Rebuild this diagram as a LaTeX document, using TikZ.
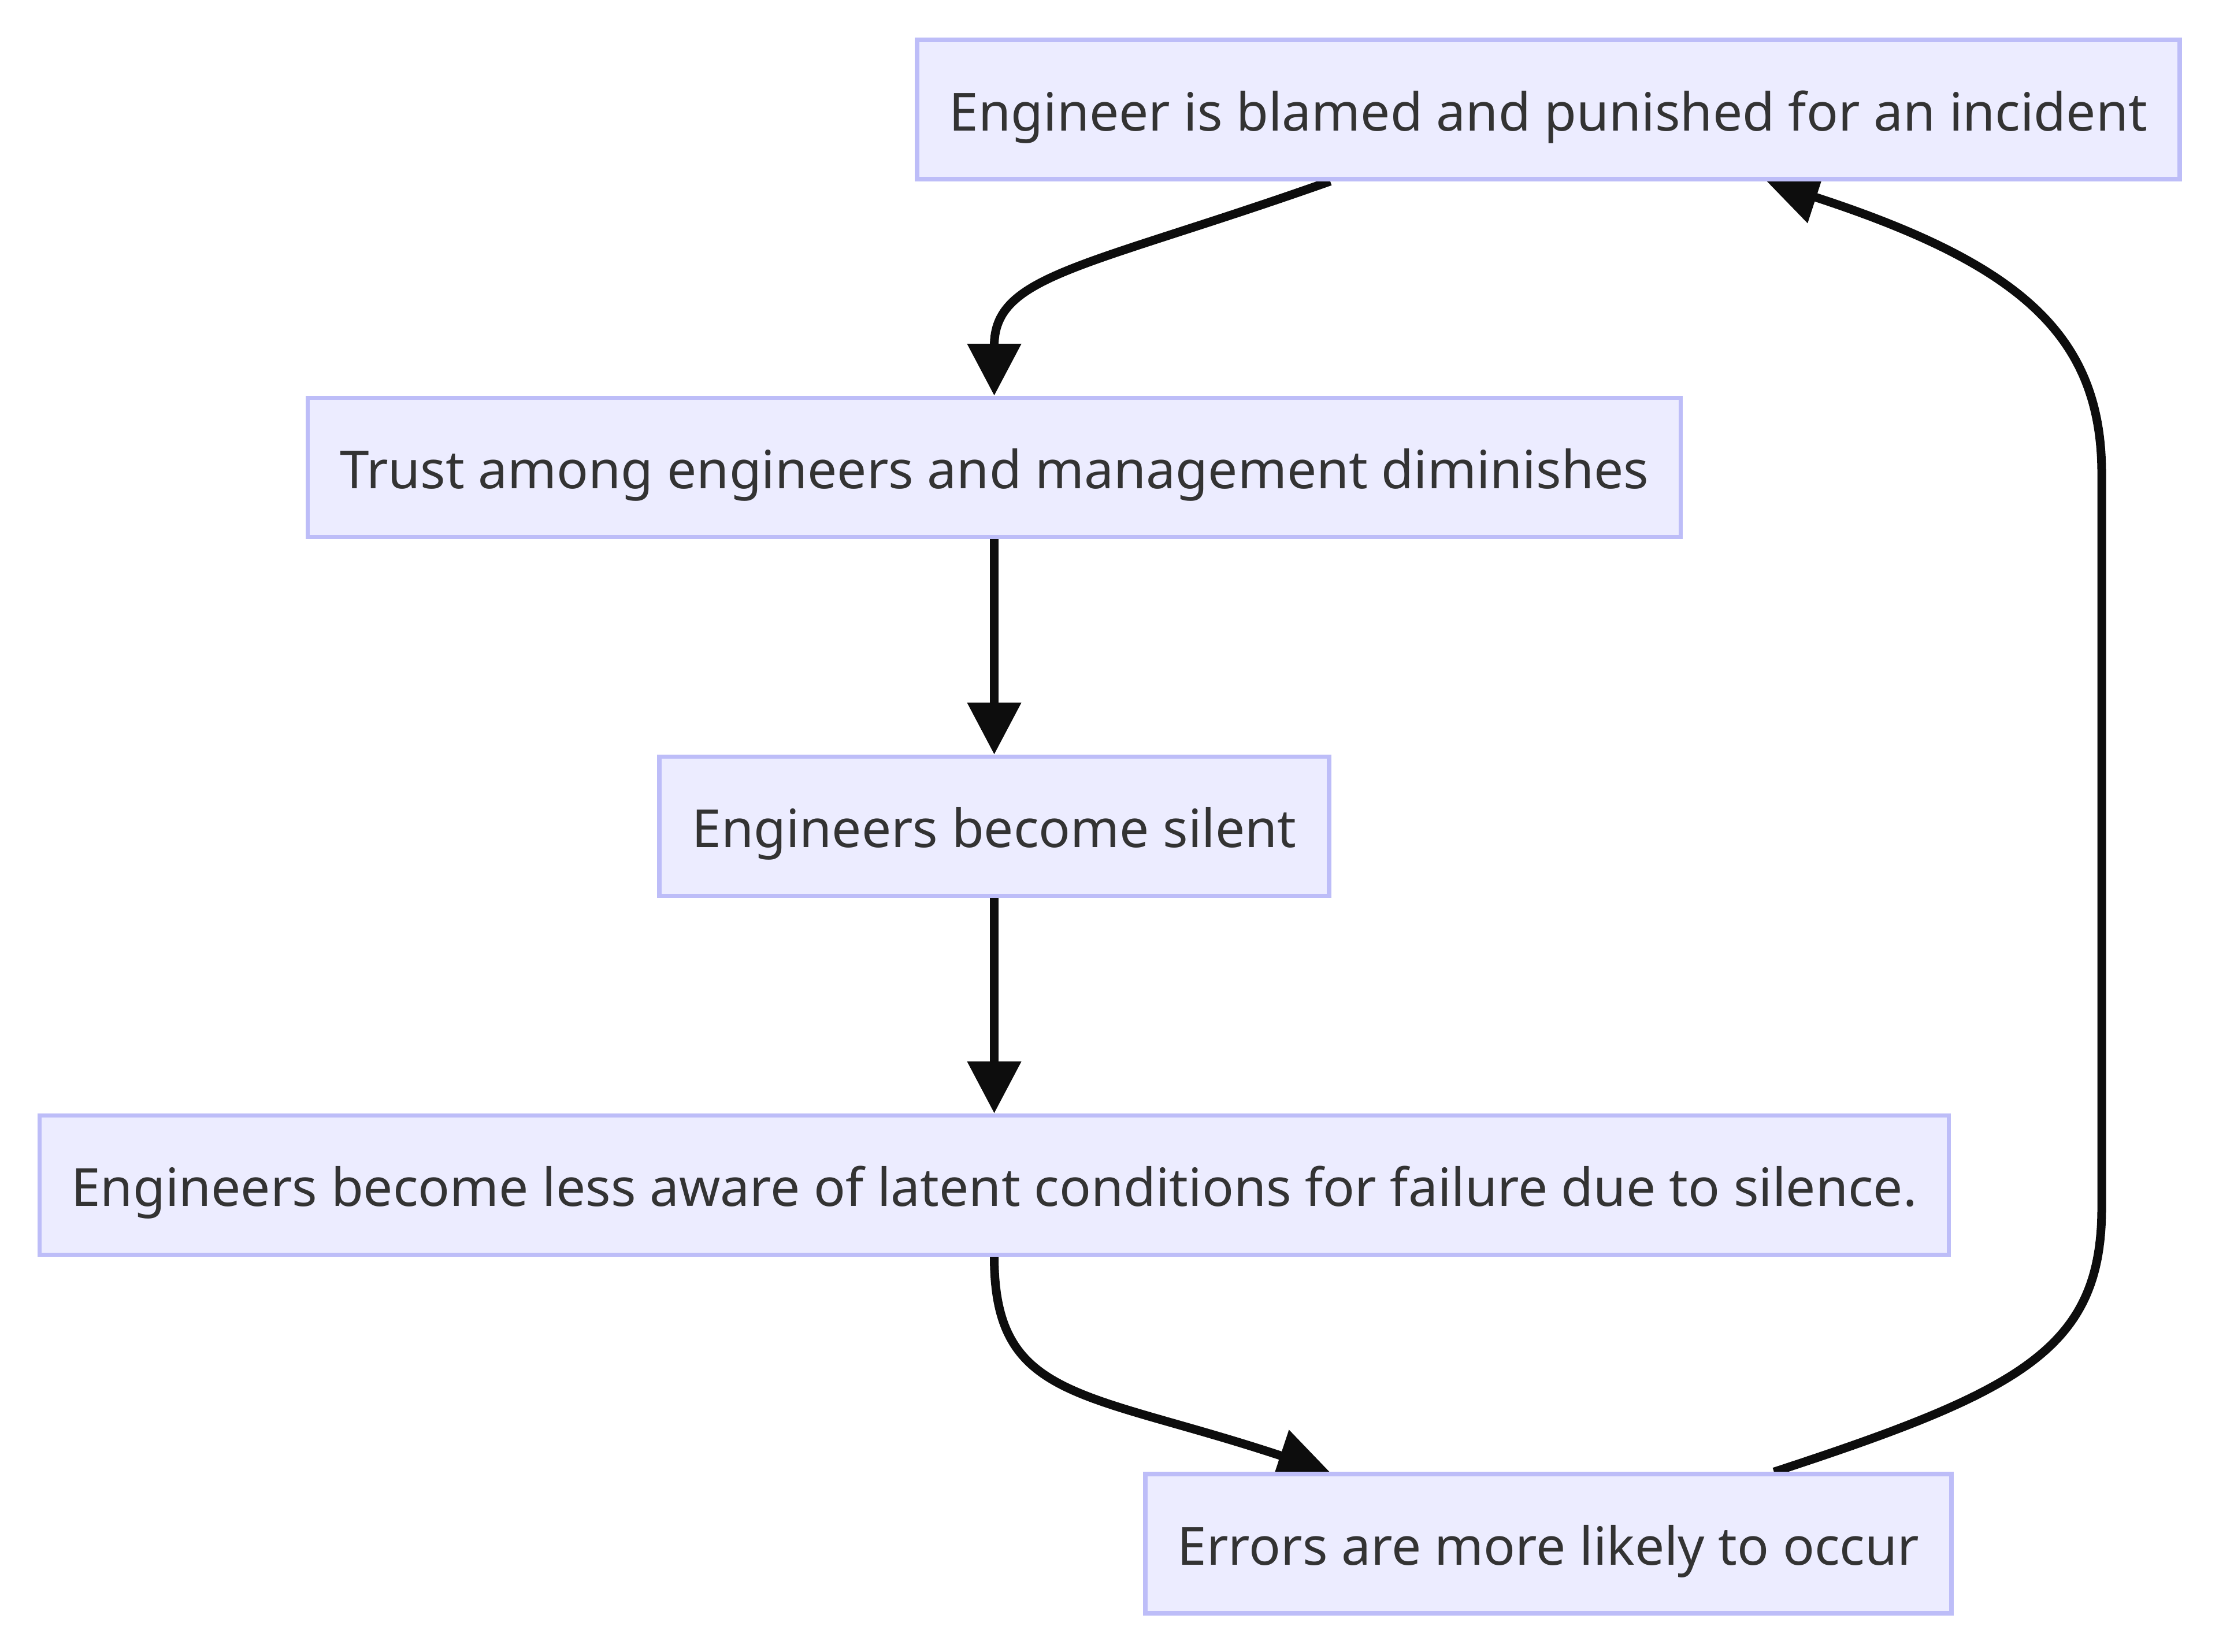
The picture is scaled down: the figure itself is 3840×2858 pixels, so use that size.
\documentclass[tikz,border=0pt]{standalone}
\usepackage{fontspec}
\setmainfont{Noto Sans}
\usetikzlibrary{arrows.meta,backgrounds}
\definecolor{fillc}{RGB}{236,236,255}
\definecolor{bordc}{RGB}{189,189,248}
\definecolor{textc}{RGB}{51,51,51}
\definecolor{edgec}{RGB}{13,13,13}
\tikzset{
  box/.style={draw=bordc, fill=fillc, line width=1.83pt, inner sep=0pt,
    minimum height=60.25pt, text height=20pt, text depth=1.75pt,
    font=\fontsize{22.73pt}{27pt}\selectfont, text=textc},
  conn/.style={draw=edgec, line width=3.75pt,
    -{Triangle[length=22.5pt,width=22.5pt]}}
}
\begin{document}
\begin{tikzpicture}[x=0.25pt,y=-0.25pt]
\useasboundingbox (0,0) rectangle (3840,2858);
\node[box, minimum width=546.25pt] (n1) at (2679.5,189.5) {Engineer is blamed and punished for an incident};
\node[box, minimum width=594pt] (n2) at (1720.5,809) {Trust among engineers and management diminishes};
\node[box, minimum width=289.75pt] (n3) at (1720.5,1430) {Engineers become silent};
\node[box, minimum width=826pt] (n4) at (1720.5,2051) {Engineers become less aware of latent conditions for failure due to silence.};
\node[box, minimum width=348.75pt] (n5) at (2679.5,2671.5) {Errors are more likely to occur};
\coordinate (r1) at (3637,2090);
\coordinate (r2) at (3637,820);
\begin{scope}[on background layer]
\draw[conn] ([xshift=-94.4pt]n1.south) .. controls +(-424,150) and +(0,-210) .. (n2.north);
\draw[conn] (n2.south) -- (n3.north);
\draw[conn] (n3.south) -- (n4.north);
\draw[conn] (n4.south) .. controls +(0,250) and +(-425,-141) .. ([xshift=-94.6pt]n5.north);
\draw[conn] ([xshift=97.6pt]n5.north) .. controls +(427,-140) and +(0,245) .. (r1) -- (r2) .. controls +(0,-240) and +(438,143) .. ([xshift=94.4pt]n1.south);
\end{scope}
\end{tikzpicture}
\end{document}
